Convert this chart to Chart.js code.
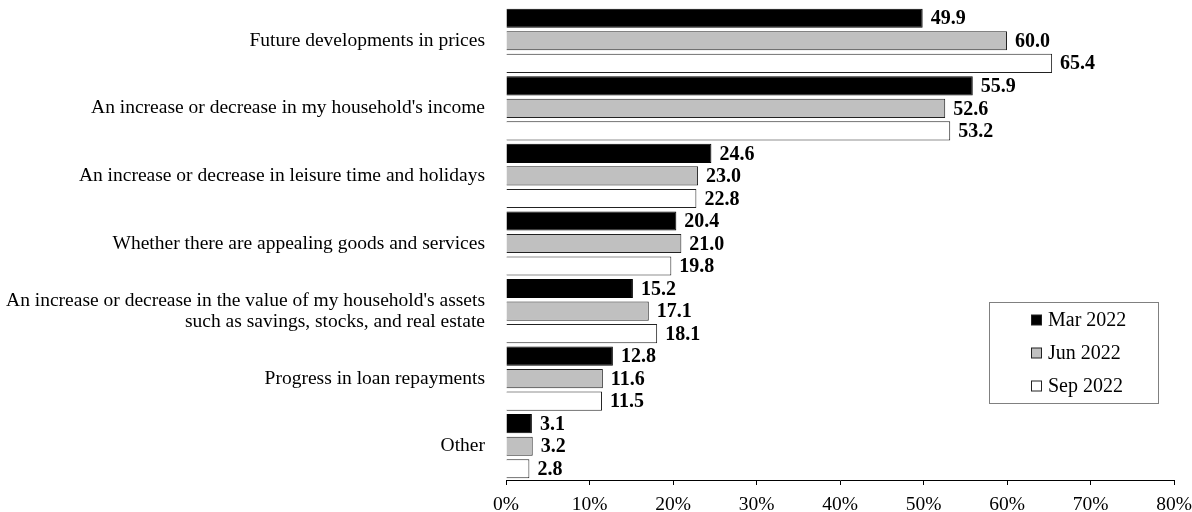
<!DOCTYPE html>
<html>
<head>
<meta charset="utf-8">
<script src="https://cdn.jsdelivr.net/npm/chart.js@4/dist/chart.umd.min.js"></script>
<style>
html,body{margin:0;padding:0;background:#fff;}
#wrap{width:1192px;height:512px;position:relative;}
</style>
</head>
<body>
<div id="wrap"><canvas id="c" width="1192" height="512"></canvas></div>
<script>
const categories = [
  "Future developments in prices",
  "An increase or decrease in my household's income",
  "An increase or decrease in leisure time and holidays",
  "Whether there are appealing goods and services",
  ["An increase or decrease in the value of my household's assets", "such as savings, stocks, and real estate"],
  "Progress in loan repayments",
  "Other"
];
const seriesNames = ["Mar 2022", "Jun 2022", "Sep 2022"];
const mar2022 = [49.9, 55.9, 24.6, 20.4, 15.2, 12.8, 3.1];
const jun2022 = [60.0, 52.6, 23.0, 21.0, 17.1, 11.6, 3.2];
const sep2022 = [65.4, 53.2, 22.8, 19.8, 18.1, 11.5, 2.8];
const xTicks = [0, 10, 20, 30, 40, 50, 60, 70, 80];

const FONT = "'Liberation Serif', 'Times New Roman', serif";
const fills = ["#000000", "#c0c0c0", "#ffffff"];

const valueLabels = {
  id: 'valueLabels',
  afterDatasetsDraw(chart) {
    const ctx = chart.ctx;
    ctx.save();
    ctx.font = "bold 20px " + FONT;
    ctx.fillStyle = "#000";
    ctx.textAlign = "left";
    ctx.textBaseline = "middle";
    chart.data.datasets.forEach((ds, di) => {
      const meta = chart.getDatasetMeta(di);
      meta.data.forEach((el, i) => {
        ctx.fillText(ds.data[i].toFixed(1), el.x + 8, el.y + 1);
      });
    });
    ctx.restore();
  }
};

const boxLegend = {
  id: 'boxLegend',
  afterDraw(chart) {
    const ctx = chart.ctx;
    ctx.save();
    const bx = 989.5, by = 302.5, bw = 169, bh = 101;
    ctx.strokeStyle = "#808080";
    ctx.lineWidth = 1;
    ctx.fillStyle = "#fff";
    ctx.fillRect(bx, by, bw, bh);
    ctx.strokeRect(bx, by, bw, bh);
    ctx.font = "20px " + FONT;
    ctx.textBaseline = "middle";
    ctx.textAlign = "left";
    chart.data.datasets.forEach((ds, i) => {
      const y = by + 18 + i * 33;
      ctx.fillStyle = ds.backgroundColor;
      ctx.fillRect(1031.5, y - 5.5, 10, 10);
      ctx.strokeStyle = "#222";
      ctx.strokeRect(1031.5, y - 5.5, 10, 10);
      ctx.fillStyle = "#000";
      ctx.fillText(ds.label, 1048, y);
    });
    ctx.restore();
  }
};

new Chart(document.getElementById('c'), {
  type: 'bar',
  data: {
    labels: categories,
    datasets: [
      { label: seriesNames[0], data: mar2022, backgroundColor: fills[0], borderColor: "#000", borderWidth: 1 },
      { label: seriesNames[1], data: jun2022, backgroundColor: fills[1], borderColor: "#222", borderWidth: 1 },
      { label: seriesNames[2], data: sep2022, backgroundColor: fills[2], borderColor: "#222", borderWidth: 1 }
    ]
  },
  options: {
    indexAxis: 'y',
    responsive: false,
    animation: false,
    devicePixelRatio: 1,
    layout: { padding: { top: 7, right: 18, bottom: 0, left: 0 } },
    plugins: { legend: { display: false }, tooltip: { enabled: false } },
    datasets: { bar: { categoryPercentage: 1.0, barPercentage: 0.85 } },
    scales: {
      x: {
        min: 0, max: 80,
        afterBuildTicks(axis) { axis.ticks = xTicks.map(v => ({ value: v })); },
        ticks: {
          callback: v => v + '%',
          font: { family: FONT, size: 19.5 },
          color: '#000',
          padding: 8,
          maxRotation: 0
        },
        grid: { drawOnChartArea: false, drawTicks: true, tickLength: 5, tickColor: '#000', offset: false },
        border: { display: true, color: '#000', width: 1 },
        afterFit(axis) { axis.height = 32; axis.paddingLeft = 0; axis.paddingRight = 0; }
      },
      y: {
        ticks: {
          font: { family: FONT, size: 19.5, lineHeight: 1.07 },
          color: '#000',
          padding: 21,
          autoSkip: false
        },
        grid: { display: false, drawTicks: false },
        border: { display: false },
        afterFit(axis) { axis.width = 506; axis.paddingTop = 0; axis.paddingBottom = 0; }
      }
    }
  },
  plugins: [valueLabels, boxLegend]
});
</script>
</body>
</html>
